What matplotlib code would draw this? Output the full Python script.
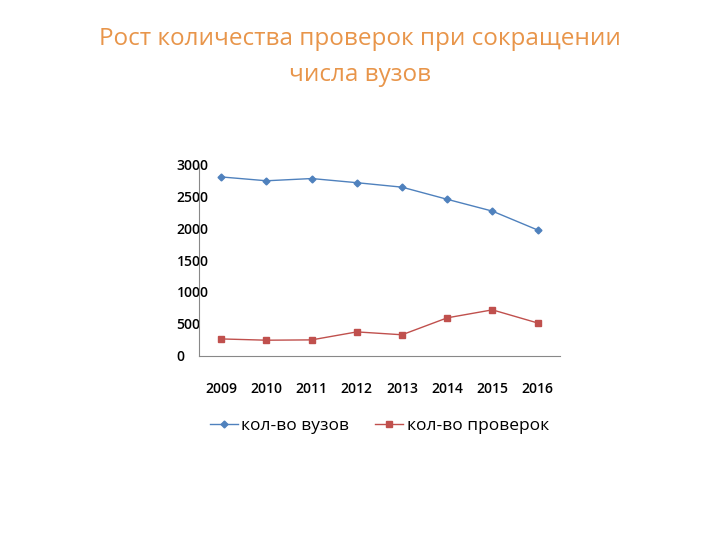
import matplotlib
matplotlib.use('Agg')
import matplotlib.pyplot as plt

# data
years = ['2009', '2010', '2011', '2012', '2013', '2014', '2015', '2016']
vuzy = [2800, 2740, 2775, 2710, 2640, 2450, 2265, 1970]
proverki = [265, 245, 250, 375, 330, 595, 720, 515]

plt.rcParams['font.family'] = ['Open Sans', 'DejaVu Sans']

fig = plt.figure(figsize=(7.2, 5.4), dpi=100)
fig.text(0.5, 0.95, 'Рост количества проверок при сокращении\nчисла вузов',
         ha='center', va='top', fontsize=17.5, color='#E8954A', linespacing=1.65)

ax = fig.add_axes([0.276, 0.341, 0.502, 0.355])
x = range(len(years))
ax.plot(x, vuzy, color='#4F81BD', marker='D', markersize=3.5, lw=1, label='кол-во вузов')
ax.plot(x, proverki, color='#C0504D', marker='s', markersize=5, lw=1, label='кол-во проверок')

ax.set_xlim(-0.5, 7.5)
ax.set_ylim(0, 3000)
ax.set_yticks(range(0, 3001, 500))
ax.set_xticks(list(x))
ax.set_xticklabels(years)
for s in ['top', 'right']:
    ax.spines[s].set_visible(False)
ax.spines['left'].set_color('#888888')
ax.spines['bottom'].set_color('#888888')
ax.tick_params(length=0, labelsize=10)
ax.tick_params(axis='x', pad=19)
ax.tick_params(axis='y', pad=16)
for t in ax.get_xticklabels() + ax.get_yticklabels():
    t.set_fontweight('semibold')
for t in ax.get_yticklabels():
    t.set_horizontalalignment('left')

ax.legend(loc='upper center', bbox_to_anchor=(0.5, -0.24), ncol=2, frameon=False,
          fontsize=12.5, handlelength=1.6, handletextpad=0.2, columnspacing=1.5)

fig.savefig('out.png', dpi=100)
